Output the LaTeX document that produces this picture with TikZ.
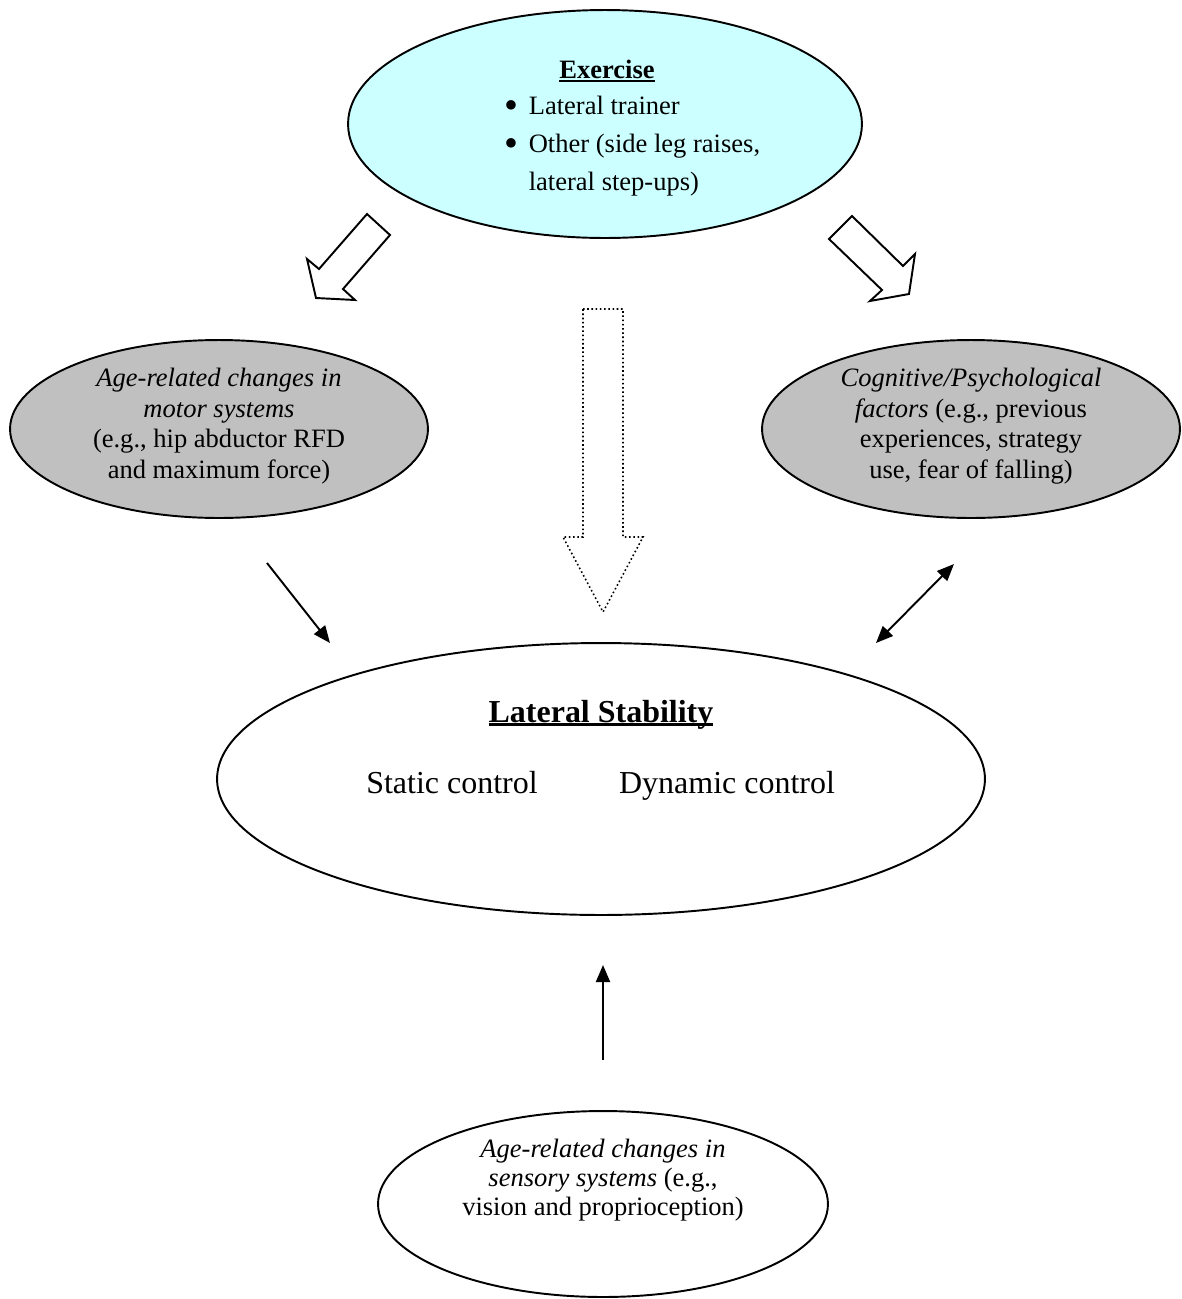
\documentclass[tikz,border=0pt]{standalone}
\usepackage{fontspec}
\setmainfont{Liberation Serif}
\usetikzlibrary{arrows.meta,shapes.geometric}
\definecolor{exblue}{HTML}{CCFFFF}
\definecolor{factorgray}{HTML}{C0C0C0}
\newcommand{\heavyul}[1]{\leavevmode\setbox0\hbox{#1}\rlap{\rule[-0.11em]{\wd0}{0.075em}}\box0}
\newcommand{\bigbullet}{\makebox[0.48cm][l]{\raisebox{-0.15em}{\scalebox{1.5}{\textbullet}}}}

\begin{document}
\begin{tikzpicture}[x=0.02cm, y=-0.02cm,
                    every path/.style={line width=1.1pt},
                    oval/.style={draw, ellipse, inner sep=0pt},
                    txt/.style={align=center, font=\fontsize{15.1pt}{17.4pt}\selectfont},
                    bigtxt/.style={anchor=base, font=\fontsize{18.2pt}{21pt}\selectfont},
                    thin/.style={-{Triangle[length=0.34cm,width=0.28cm]}},
                    hollow/.style={draw, fill=white, line join=miter},
                    dots/.style={draw, line width=0.9pt, dash pattern=on 0.9pt off 1.5pt}]

  \useasboundingbox (0,0) rectangle (1181,1299);

  % === Exercise (Top) ===
  \node[oval, fill=exblue, minimum width=10.28cm, minimum height=4.56cm] (exercise) at (605,124) {};
  \node[txt, font=\fontsize{15.1pt}{17.4pt}\selectfont\bfseries] (extitle) at (607,71) {\heavyul{Exercise}};
  \node[txt, align=left, anchor=west, font=\fontsize{15.1pt}{21.6pt}\selectfont] (exlist) at (498,146)
    {\bigbullet Lateral trainer\\
     \bigbullet Other (side leg raises,\\
     \makebox[0.48cm][l]{}lateral step-ups)};

  % === Factors (Middle) ===
  \node[oval, fill=factorgray, minimum width=8.36cm, minimum height=3.56cm] (motor) at (219,429) {};
  \node[txt] (motortext) at (219,426)
    {\textit{Age-related changes in}\\ \textit{motor systems}\\ (e.g., hip abductor RFD\\ and maximum force)};

  \node[oval, fill=factorgray, minimum width=8.36cm, minimum height=3.56cm] (cognitive) at (971,429) {};
  \node[txt] (cogtext) at (971,426)
    {\textit{Cognitive/Psychological}\\ \textit{factors} (e.g., previous\\ experiences, strategy\\ use, fear of falling)};

  % === Lateral Stability ===
  \node[oval, fill=white, minimum width=15.36cm, minimum height=5.44cm] (stability) at (601,779) {};
  \node[bigtxt, font=\fontsize{18.2pt}{21pt}\selectfont\bfseries] (stabtitle) at (601,722) {\heavyul{Lateral Stability}};
  \node[bigtxt] (static) at (452,793) {Static control};
  \node[bigtxt] (dynamic) at (727,793) {Dynamic control};

  % === Sensory (Bottom) ===
  \node[oval, fill=white, minimum width=9.0cm, minimum height=3.72cm] (sensory) at (603,1204) {};
  \node[txt, font=\fontsize{15.1pt}{16.6pt}\selectfont] (senstext) at (603,1180)
    {\textit{Age-related changes in}\\ \textit{sensory systems} (e.g.,\\ vision and proprioception)};

  % === Block arrows ===
  \draw[hollow] (367,214) -- (390,235) -- (343,289) -- (355,300) -- (316,298)
                -- (307,259) -- (319,269) -- cycle;
  \draw[hollow] (852,216) -- (903,266) -- (915,254) -- (909,294) -- (870,301)
                -- (882,290) -- (829,239) -- cycle;
  \draw[dots] (583,309) -- (623,309) -- (623,537) -- (643,537) -- (603,612)
              -- (563,537) -- (583,537) -- cycle;

  % === Thin arrows ===
  \coordinate (motorout) at (267,563);
  \coordinate (motorin) at (330,643);
  \coordinate (cogend) at (954,564);
  \coordinate (stabend) at (876,643);
  \coordinate (sensout) at (603,1060);
  \coordinate (sensin) at (603,965);

  \draw[thin] (motorout) -- (motorin);
  \draw[thin, {Triangle[length=0.34cm,width=0.28cm]}-{Triangle[length=0.34cm,width=0.28cm]}] (stabend) -- (cogend);
  \draw[thin] (sensout) -- (sensin);

\end{tikzpicture}
\end{document}
